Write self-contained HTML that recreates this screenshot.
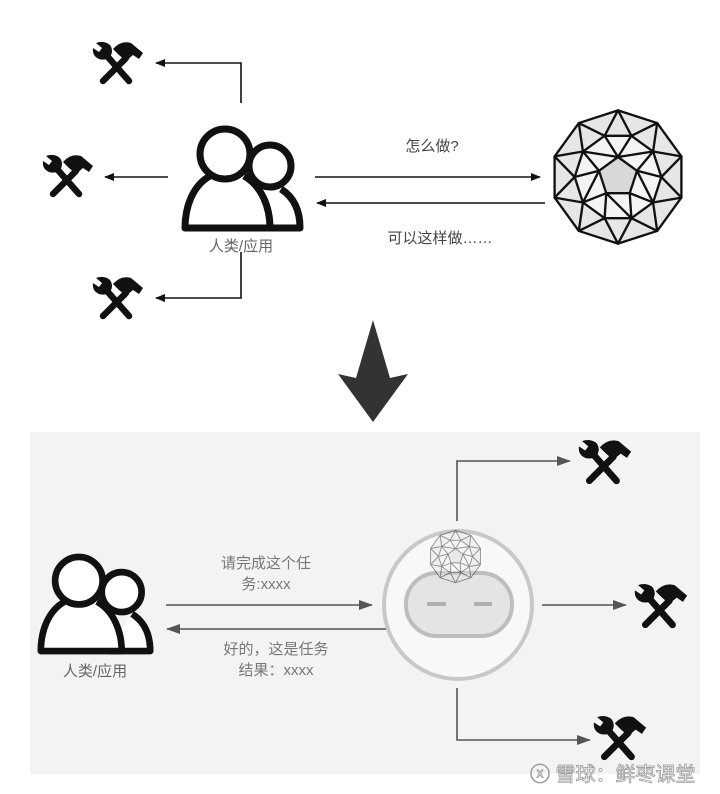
<!DOCTYPE html>
<html><head><meta charset="utf-8"><style>
html,body{margin:0;padding:0;background:#fff;}
body{width:720px;height:794px;overflow:hidden;}
svg{display:block;}
text{font-family:"Liberation Sans","Noto Sans CJK SC",sans-serif;}
</style></head><body>
<svg width="720" height="794" viewBox="0 0 720 794" xmlns="http://www.w3.org/2000/svg">
<defs>
<symbol id="tool" viewBox="0 0 50 46" overflow="visible">
  <line x1="33" y1="18" x2="10" y2="41" stroke="#111" stroke-width="6.5" stroke-linecap="round"/>
  <path d="M20,9 Q28,0 38,3 L50,13 L46,19 L40,15 L33,21 L26,15 Z" fill="#111"/>
  <line x1="14" y1="16" x2="36" y2="41" stroke="#111" stroke-width="6.5" stroke-linecap="round"/>
  <path d="M3,3 L9,8 L6,12 L0,8 Q-1,16 6,19 Q12,21 17,17 Q21,11 17,5 Q11,0 3,3 Z" fill="#111"/>
</symbol>
<symbol id="people" viewBox="0 0 122 108" overflow="visible">
  <path d="M74,104 L118,104 C118,84 110,72 99,65" fill="#fff" stroke="#111" stroke-width="7" stroke-linejoin="round"/>
  <circle cx="88" cy="42" r="21" fill="#fff" stroke="#111" stroke-width="7"/>
  <path d="M28,52 C10,62 3,84 3,104 L88,104 C88,84 80,62 62,52" fill="#fff" stroke="#111" stroke-width="7" stroke-linejoin="round"/>
  <circle cx="43" cy="30" r="25" fill="#fff" stroke="#111" stroke-width="7"/>
</symbol>
<symbol id="poly" viewBox="-1.05 -1.05 2.1 2.1" overflow="visible">
  <polygon points="0,-1 -0.588,-0.809 -0.951,-0.309 -0.951,0.309 -0.588,0.809 0,1 0.588,0.809 0.951,0.309 0.951,-0.309 0.588,-0.809" fill="#e6e6e6"/>
  <polygon points="-0.201,-0.618 -0.526,-0.382 -0.65,0 -0.526,0.382 -0.201,0.618 0.201,0.618 0.526,0.382 0.65,0 0.526,-0.382 0.201,-0.618" fill="#f4f4f4"/>
  <polygon points="0,-0.3 -0.285,-0.093 -0.176,0.243 0.176,0.243 0.285,-0.093" fill="#d8d8d8"/>
  <g fill="none" stroke="#111" stroke-width="0.035" stroke-linejoin="round">
  <polygon points="0,-1 -0.588,-0.809 -0.951,-0.309 -0.951,0.309 -0.588,0.809 0,1 0.588,0.809 0.951,0.309 0.951,-0.309 0.588,-0.809"/>
  <polygon points="-0.201,-0.618 -0.526,-0.382 -0.65,0 -0.526,0.382 -0.201,0.618 0.201,0.618 0.526,0.382 0.65,0 0.526,-0.382 0.201,-0.618"/>
  <polygon points="0,-1 -0.201,-0.618 -0.588,-0.809 -0.526,-0.382 -0.951,-0.309 -0.65,0 -0.951,0.309 -0.526,0.382 -0.588,0.809 -0.201,0.618 0,1 0.201,0.618 0.588,0.809 0.526,0.382 0.951,0.309 0.65,0 0.951,-0.309 0.526,-0.382 0.588,-0.809 0.201,-0.618"/>
  <polygon points="0,-0.3 -0.285,-0.093 -0.176,0.243 0.176,0.243 0.285,-0.093"/>
  <polyline points="-0.201,-0.618 0,-0.3 0.201,-0.618"/>
  <polyline points="-0.526,-0.382 -0.285,-0.093 -0.65,0"/>
  <polyline points="-0.526,0.382 -0.176,0.243 -0.201,0.618"/>
  <polyline points="0.201,0.618 0.176,0.243 0.526,0.382"/>
  <polyline points="0.65,0 0.285,-0.093 0.526,-0.382"/>
  <line x1="0" y1="-0.3" x2="-0.526" y2="-0.382"/><line x1="0" y1="-0.3" x2="0.526" y2="-0.382"/>
  <line x1="-0.285" y1="-0.093" x2="-0.526" y2="0.382"/><line x1="0.285" y1="-0.093" x2="0.526" y2="0.382"/>
  <line x1="-0.176" y1="0.243" x2="0.201" y2="0.618"/>
  </g>
</symbol>
<marker id="ah" markerWidth="10" markerHeight="8" refX="9" refY="4" orient="auto" markerUnits="userSpaceOnUse"><path d="M0,0 L10,4 L0,8 Z" fill="#111"/></marker>
<marker id="ag" markerWidth="14" markerHeight="10" refX="13" refY="5" orient="auto" markerUnits="userSpaceOnUse"><path d="M0,0 L14,5 L0,10 Z" fill="#555"/></marker>
</defs>

<!-- TOP -->
<g stroke="#111" stroke-width="1.6" fill="none">
  <polyline points="241,103 241,63 156,63" marker-end="url(#ah)"/>
  <line x1="168" y1="177" x2="105" y2="177" marker-end="url(#ah)"/>
  <polyline points="241,252 241,298 156,298" marker-end="url(#ah)"/>
  <line x1="315" y1="177" x2="540" y2="177" marker-end="url(#ah)"/>
  <line x1="545" y1="203" x2="317" y2="203" marker-end="url(#ah)"/>
</g>
<use href="#tool" x="92" y="40" width="52" height="46"/>
<use href="#tool" x="42" y="153" width="52" height="46"/>
<use href="#tool" x="92" y="275" width="52" height="46"/>
<use href="#people" x="182" y="124" width="122" height="108"/>
<text x="241" y="251" font-size="15" fill="#666" text-anchor="middle">人类/应用</text>
<text x="432" y="151" font-size="15" fill="#444" text-anchor="middle">怎么做?</text>
<text x="440" y="243" font-size="15" fill="#444" text-anchor="middle">可以这样做……</text>
<use href="#poly" x="548" y="107" width="140" height="140"/>

<!-- big down arrow -->
<path d="M373,320 L390,378 L408,374 L373,422 L338,374 L356,378 Z" fill="#333"/>

<!-- BOTTOM panel -->
<rect x="30" y="432" width="670" height="342" fill="#f3f3f3"/>
<use href="#people" x="38" y="552" width="116" height="103"/>
<text x="95" y="676" font-size="15" fill="#666" text-anchor="middle">人类/应用</text>
<text x="266" y="568" font-size="15" fill="#777" text-anchor="middle">请完成这个任</text>
<text x="266" y="589" font-size="15" fill="#777" text-anchor="middle">务:xxxx</text>
<text x="276" y="654" font-size="15" fill="#777" text-anchor="middle">好的，这是任务</text>
<text x="276" y="675" font-size="15" fill="#777" text-anchor="middle">结果：xxxx</text>
<g stroke="#555" stroke-width="1.6" fill="none">
  <line x1="166" y1="605" x2="372" y2="605" marker-end="url(#ag)"/>
  <line x1="386" y1="629" x2="167" y2="629" marker-end="url(#ag)"/>
  <polyline points="457,521 457,461 570,461" marker-end="url(#ag)"/>
  <line x1="542" y1="605" x2="626" y2="605" marker-end="url(#ag)"/>
  <polyline points="457,688 457,740 590,740" marker-end="url(#ag)"/>
</g>
<circle cx="458" cy="605" r="74" fill="#f8f8f8" stroke="#c8c8c8" stroke-width="4"/>
<rect x="406" y="573" width="106" height="63" rx="31" fill="#e4e4e4" stroke="#bdbdbd" stroke-width="4"/>
<line x1="427" y1="604" x2="446" y2="604" stroke="#b0b0b0" stroke-width="4"/>
<line x1="474" y1="604" x2="492" y2="604" stroke="#b0b0b0" stroke-width="4"/>
<g opacity="0.45"><use href="#poly" x="428" y="529" width="55" height="55"/></g>
<use href="#tool" x="578" y="438" width="54" height="48"/>
<use href="#tool" x="634" y="582" width="54" height="48"/>
<use href="#tool" x="593" y="714" width="54" height="48"/>
<text x="530" y="781" font-size="20" fill="#fff" stroke="#999" stroke-width="0.8">ⓧ 雪球：鲜枣课堂</text>
</svg>
</body></html>
